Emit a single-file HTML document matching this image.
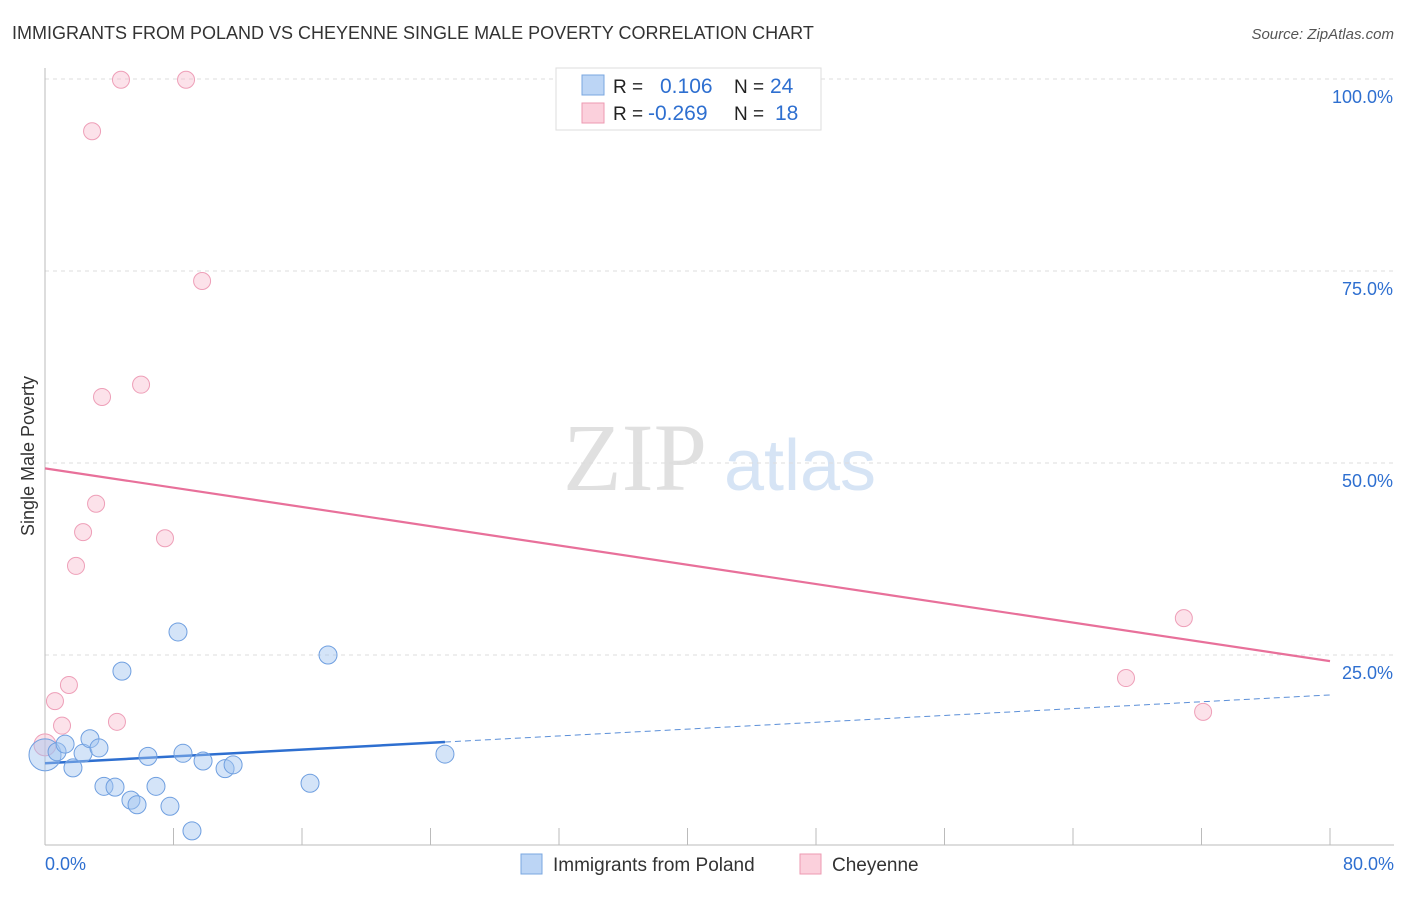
<!DOCTYPE html>
<html><head><meta charset="utf-8"><style>
body{margin:0;background:#fff;font-family:"Liberation Sans",sans-serif;}
svg text{font-family:"Liberation Sans",sans-serif;}
</style></head><body>
<svg id="chart" width="1406" height="892">
<text x="12" y="39" font-size="18" fill="#333">IMMIGRANTS FROM POLAND VS CHEYENNE SINGLE MALE POVERTY CORRELATION CHART</text>
<text x="1394" y="39" font-size="15" fill="#555" font-style="italic" text-anchor="end">Source: ZipAtlas.com</text>
<g>
<text x="635" y="490" font-size="96" fill="#e0e0e0" style="font-family:'Liberation Serif',serif" text-anchor="middle">ZIP</text>
<text x="800" y="490" font-size="72" fill="#d6e4f5" text-anchor="middle">atlas</text>
</g>
<g id="grid"></g>
<g id="axes"></g>
<g id="lines"></g>
<g id="points"></g>
<text transform="translate(34,456) rotate(-90)" font-size="18" fill="#333" text-anchor="middle">Single Male Poverty</text>
<g>
<rect x="556" y="68" width="265" height="62" fill="#fff" stroke="#ddd"/>
<rect x="582" y="75" width="22" height="20" fill="#bcd5f5" stroke="#7aa7e0"/>
<rect x="582" y="103" width="22" height="20" fill="#fbd0dc" stroke="#ec9ab2"/>
<text x="613" y="93" font-size="19" fill="#222">R =</text>
<text x="660" y="93" font-size="21" fill="#2e6fd0">0.106</text>
<text x="734" y="93" font-size="19" fill="#222">N =</text>
<text x="770" y="93" font-size="21" fill="#2e6fd0">24</text>
<text x="613" y="120" font-size="19" fill="#222">R =</text>
<text x="648" y="120" font-size="21" fill="#2e6fd0">-0.269</text>
<text x="734" y="120" font-size="19" fill="#222">N =</text>
<text x="775" y="120" font-size="21" fill="#2e6fd0">18</text>
</g>
<g>
<rect x="521" y="854" width="21" height="20" fill="#bcd5f5" stroke="#7aa7e0"/>
<text x="553" y="871" font-size="19" fill="#333">Immigrants from Poland</text>
<rect x="800" y="854" width="21" height="20" fill="#fbd0dc" stroke="#ec9ab2"/>
<text x="832" y="871" font-size="19" fill="#333">Cheyenne</text>
</g>
</svg>
<script>
const blueX=[0,0.75,1.25,1.74,2.37,2.80,3.36,3.67,4.36,4.79,5.35,5.73,6.41,6.91,7.78,8.28,8.59,9.15,9.84,11.21,11.71,16.5,17.62,24.9];
const blueY=[12.0,12.4,13.4,10.3,12.2,14.1,12.9,7.9,7.8,22.9,6.1,5.5,11.8,7.9,5.3,28.0,12.2,2.1,11.2,10.2,10.7,8.3,25.0,12.1];
const pinkX=[0,0.62,1.06,1.49,1.93,2.37,2.93,3.18,3.55,4.48,4.73,5.98,7.47,8.78,9.78,67.3,70.9,72.1];
const pinkY=[13.3,19.0,15.8,21.1,36.6,41.0,93.2,44.7,58.6,16.3,99.9,60.2,40.2,99.9,73.7,22.0,29.8,17.6];
const blueTrend=[10.9,19.8];
const pinkTrend=[49.3,24.2];
const yTicks=[25,50,75,100];
const xTickLabels=["0.0%","80.0%"];
const NS="http://www.w3.org/2000/svg";
const sx=v=>45+v/80*1285, sy=v=>847-v*7.68;
function mk(t,a,p){const e=document.createElementNS(NS,t);for(const k in a)e.setAttribute(k,a[k]);p.appendChild(e);return e;}
const grid=document.getElementById('grid'),axes=document.getElementById('axes'),lines=document.getElementById('lines'),pts=document.getElementById('points');
yTicks.forEach(v=>{
 const l=mk('line',{x1:45,x2:1394,y1:sy(v),y2:sy(v),stroke:'#ddd','stroke-dasharray':'4,4'},grid);
 
 
 const t=mk('text',{x:1393,y:sy(v)+24,'font-size':18,fill:'#2e6fd0','text-anchor':'end'},grid);
 t.textContent=v.toFixed(1)+'%';
 
 
});
mk('line',{x1:45,x2:45,y1:68,y2:845,stroke:'#bbb'},axes);
mk('line',{x1:45,x2:1394,y1:845,y2:845,stroke:'#bbb'},axes);
for(let i=1;i<=10;i++){const x=sx(i*8);mk('line',{x1:x,x2:x,y1:828,y2:845,stroke:'#bbb'},axes);}
const t0=mk('text',{x:45,y:870,'font-size':18,fill:'#2e6fd0'},axes);t0.textContent=xTickLabels[0];


const t1=mk('text',{x:1394,y:870,'font-size':18,fill:'#2e6fd0','text-anchor':'end'},axes);t1.textContent=xTickLabels[1];


const bAt=v=>blueTrend[0]+(blueTrend[1]-blueTrend[0])*v/80;
const b1=mk('line',{x1:sx(0),y1:sy(bAt(0)),x2:sx(24.9),y2:sy(bAt(24.9)),stroke:'#2e6fd0','stroke-width':2.5},lines);


const b2=mk('line',{x1:sx(24.9),y1:sy(bAt(24.9)),x2:sx(80),y2:sy(bAt(80)),stroke:'#5b8fd8','stroke-width':1,'stroke-dasharray':'6,4'},lines);


const p1=mk('line',{x1:sx(0),y1:sy(pinkTrend[0]),x2:sx(80),y2:sy(pinkTrend[1]),stroke:'#e8709a','stroke-width':2.2},lines);


pinkX.forEach((x,i)=>{const c=mk('circle',{cx:sx(x),cy:sy(pinkY[i]),r:i==0?11:8.5,fill:'rgba(248,190,208,0.45)',stroke:'#ee9fb8','stroke-width':1},pts);
 
 });
blueX.forEach((x,i)=>{const c=mk('circle',{cx:sx(x),cy:sy(blueY[i]),r:i==0?16:9,fill:'rgba(160,196,240,0.45)',stroke:'#6f9fe0','stroke-width':1},pts);
 
 });
</script>
</body></html>
